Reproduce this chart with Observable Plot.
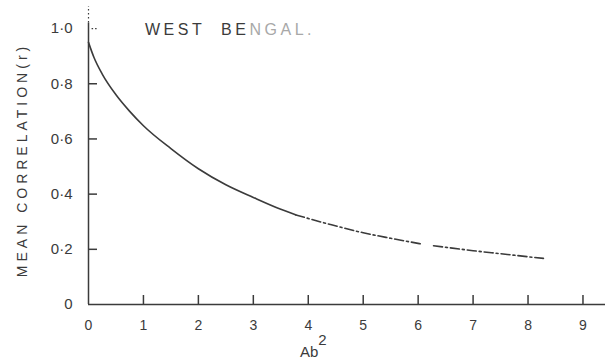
<!DOCTYPE html>
<html><head><meta charset="utf-8">
<script src="https://cdn.jsdelivr.net/npm/d3@7"></script>
<script src="https://cdn.jsdelivr.net/npm/@observablehq/plot@0.6"></script>
<style>
body{margin:0;background:#fff}
#chart{width:609px;height:359px;overflow:hidden}
</style>
</head><body><div id="chart"></div>
<script>
// Data
const ab2   = [0, 0.1, 0.25, 0.5, 0.75, 1.0, 1.5, 2.0, 2.5, 3.0, 3.5, 3.77, 4.4, 5.0, 5.5, 6.04, 6.28, 7.0, 7.5, 8.0, 8.28];
const meanR = [0.95, 0.895, 0.835, 0.76, 0.70, 0.648, 0.565, 0.492, 0.434, 0.388, 0.345, 0.325, 0.29, 0.26, 0.24, 0.22, 0.213, 0.195, 0.184, 0.173, 0.167];
const xTicks = [0, 1, 2, 3, 4, 5, 6, 7, 8, 9];
const yTicks = [0, 0.2, 0.4, 0.6, 0.8, 1.0];
const titleDark = "WEST\u00A0\u00A0BE";
const titleFaded = "NGAL.";
const yLabel = "MEAN CORRELATION(r)";
const xLabel = "Ab";
const xLabelSup = "2";

const ink = "#3b3b3b";
const W = 609, H = 359, mL = 88, mR = 4, mT = 6, mB = 55;
const xDomain = [0, 9.41], yDomain = [0, 1.08];
const tickLen = 9; // px
// tick lengths converted to data units
const tickDX = tickLen * (xDomain[1] - xDomain[0]) / (W - mL - mR);
const tickDY = tickLen * (yDomain[1] - yDomain[0]) / (H - mT - mB);

const pts = ab2.map((x, i) => ({x, r: meanR[i]}));
const solidEnd = 3.77, gapFrom = 6.05, gapTo = 6.27;
const solid = pts.filter(d => d.x <= solidEnd);
const broken1 = pts.filter(d => d.x >= solidEnd && d.x <= gapFrom);
const broken2 = pts.filter(d => d.x >= gapTo);
const fmtY = d => d === 0 ? "0" : d.toFixed(1).replace(".", "\u00B7");

const chart = Plot.plot({
  width: W, height: H,
  marginLeft: mL, marginRight: mR, marginTop: mT, marginBottom: mB,
  style: {fontFamily: "'Liberation Sans', Arial, sans-serif", color: ink, background: "#fff"},
  x: {domain: xDomain},
  y: {domain: yDomain},
  marks: [
    Plot.ruleY([0], {stroke: ink, strokeWidth: 1.5}),
    Plot.ruleX([0], {y1: 0, y2: 1.02, stroke: ink, strokeWidth: 1.5}),
    Plot.ruleX([0], {y1: 1.02, y2: 1.08, stroke: ink, strokeWidth: 1.2, strokeDasharray: "1.5,2.5"}),
    // inward ticks
    Plot.ruleX(xTicks.filter(d => d > 0), {x: d => d, y1: 0, y2: tickDY, stroke: ink, strokeWidth: 1.5}),
    Plot.ruleY(yTicks.filter(d => d > 0 && d < 1), {y: d => d, x1: 0, x2: tickDX, stroke: ink, strokeWidth: 1.5}),
    Plot.ruleY([1.0], {y: d => d, x1: tickDX * 0.4, x2: tickDX, stroke: ink, strokeWidth: 1.3, strokeDasharray: "1.5,2"}),
    Plot.axisX({ticks: xTicks, tickSize: 0, tickPadding: 16, tickFormat: d => String(d), fontSize: 14, label: null, fill: ink}),
    Plot.axisY({ticks: yTicks, tickSize: 0, tickPadding: 16, tickFormat: fmtY, fontSize: 15, label: null, fill: ink}),
    Plot.line(solid, {x: "x", y: "r", curve: "monotone-x", stroke: ink, strokeWidth: 1.6}),
    Plot.line(broken1, {x: "x", y: "r", curve: "monotone-x", stroke: ink, strokeWidth: 1.6, strokeDasharray: "9,3,2,3"}),
    Plot.line(broken2, {x: "x", y: "r", curve: "monotone-x", stroke: ink, strokeWidth: 1.6, strokeDasharray: "9,3,2,3"})
  ]
});
document.getElementById("chart").appendChild(chart);

const svg = d3.select(chart);
// Y axis title
svg.append("text")
  .attr("transform", "translate(23,160) rotate(-90)")
  .attr("text-anchor", "middle").attr("dominant-baseline", "middle")
  .attr("font-size", 14).attr("letter-spacing", "4px").attr("fill", ink)
  .text(yLabel);
// X axis title with superscript
const xl = svg.append("text")
  .attr("x", 300).attr("y", 357).attr("text-anchor", "start")
  .attr("font-size", 15).attr("fill", ink);
xl.append("tspan").text(xLabel);
xl.append("tspan").attr("dy", -12).attr("font-size", 15).text(xLabelSup);
// Inset title
const t = svg.append("text")
  .attr("x", 145).attr("y", 35).attr("text-anchor", "start")
  .attr("font-size", 16).attr("letter-spacing", "3.5px").attr("fill", ink);
t.append("tspan").text(titleDark);
t.append("tspan").attr("fill", "#a8a8a8").text(titleFaded);
</script>
</body></html>
